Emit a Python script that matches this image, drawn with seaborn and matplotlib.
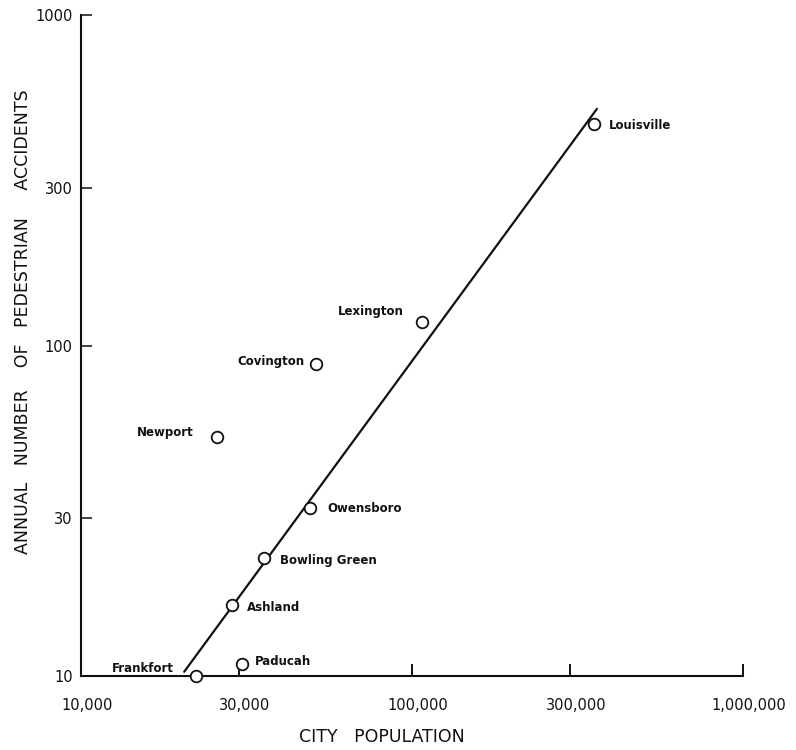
import matplotlib
matplotlib.use("Agg")
import matplotlib.pyplot as plt
import matplotlib.transforms as mtransforms
import seaborn as sns
import pandas as pd

# ---- data ----
cities = ["Louisville", "Lexington", "Covington", "Newport", "Owensboro",
          "Bowling Green", "Ashland", "Paducah", "Frankfort"]
population = [354000, 107000, 51300, 25800, 49200, 35700, 28600, 30600, 22300]
accidents = [468, 118, 88, 53, 32.2, 22.8, 16.4, 10.9, 10.0]

fit_x = [20500, 362000]
fit_y = [10.3, 520]

x_ticks = [10000, 30000, 100000, 300000, 1000000]
x_ticklabels = ["10,000", "30,000", "100,000", "300,000", "1,000,000"]
y_ticks = [10, 30, 100, 300, 1000]
y_ticklabels = ["10", "30", "100", "300", "1000"]

# label placement (offset in pixels, alignment)
label_style = {
    "Louisville":    (15, -2, "left"),
    "Lexington":     (-18, 10, "right"),
    "Covington":     (-12, 2, "right"),
    "Newport":       (-24, 4, "right"),
    "Owensboro":     (17, 0, "left"),
    "Bowling Green": (16, -3, "left"),
    "Ashland":       (15, -3, "left"),
    "Paducah":       (13, 2, "left"),
    "Frankfort":     (-22, 7, "right"),
}

df = pd.DataFrame({"city": cities, "population": population, "accidents": accidents})
fit = pd.DataFrame({"x": fit_x, "y": fit_y})

sns.set_theme(style="white")
plt.rcParams["font.family"] = ["DejaVu Sans"]

fig = plt.figure(figsize=(7.96, 7.5), dpi=100)
ax = fig.add_axes([81 / 796, 74 / 750, (743 - 81) / 796, (676 - 15) / 750])

sns.lineplot(data=fit, x="x", y="y", ax=ax, color="#111111", linewidth=1.6)
sns.scatterplot(data=df, x="population", y="accidents", ax=ax, marker="o",
                s=70, facecolor="white", edgecolor="#111111", linewidth=1.3,
                zorder=5, clip_on=False)

ax.set_xscale("log")
ax.set_yscale("log")
ax.set_xlim(10000, 1000000)
ax.set_ylim(10, 1000)

ax.set_xticks(x_ticks)
ax.set_xticklabels(x_ticklabels)
ax.set_yticks(y_ticks)
ax.set_yticklabels(y_ticklabels)
ax.minorticks_off()
ax.tick_params(axis="x", which="major", direction="in", length=9, width=1.4,
               color="#111111", pad=16, labelsize=10.5, labelcolor="#111111")
ax.tick_params(axis="y", which="major", direction="in", length=8, width=1.1,
               color="#111111", pad=6, labelsize=10.5, labelcolor="#111111")
ax.tick_params(bottom=True, left=True)

shift = mtransforms.ScaledTranslation(6 / 100, 0, fig.dpi_scale_trans)
for lab in ax.get_xticklabels():
    lab.set_transform(lab.get_transform() + shift)

for side in ["top", "right"]:
    ax.spines[side].set_visible(False)
for side in ["left", "bottom"]:
    ax.spines[side].set_color("#111111")
    ax.spines[side].set_linewidth(1.5)

for c, xv, yv in zip(cities, population, accidents):
    dx, dy, ha = label_style[c]
    ax.annotate(c, (xv, yv), xytext=(dx, dy), textcoords="offset pixels",
                ha=ha, va="center", fontsize=8.5, fontweight="bold",
                color="#111111")

ax.set_xlabel("CITY   POPULATION", fontsize=12.5, color="#111111")
ax.xaxis.set_label_coords(0.454, -0.093)
ax.xaxis.label.set_verticalalignment("center")

ax.set_ylabel("ANNUAL   NUMBER    OF   PEDESTRIAN     ACCIDENTS", fontsize=12.5,
              color="#111111")
ax.yaxis.set_label_coords(-0.0876, 0.5356)
ax.yaxis.label.set_verticalalignment("center")

fig.savefig("out.png", dpi=100, facecolor="white")
